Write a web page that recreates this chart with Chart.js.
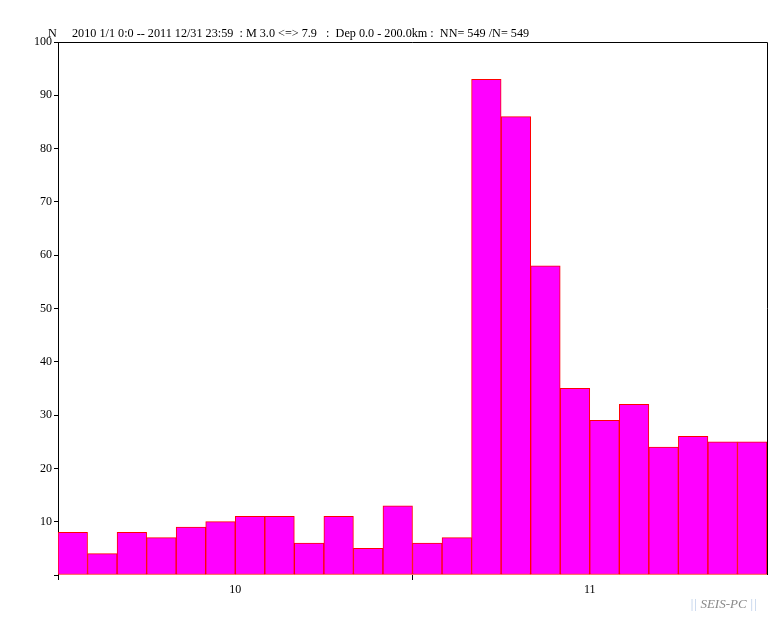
<!DOCTYPE html>
<html>
<head>
<meta charset="utf-8">
<script src="https://cdn.jsdelivr.net/npm/chart.js@4.4.0/dist/chart.umd.min.js"></script>
<style>
  body { margin: 0; background: #fff; }
  #wrap { width: 783px; height: 618px; }
</style>
</head>
<body>
<div id="wrap"><canvas id="histChart" width="783" height="618"></canvas></div>
<script>
// monthly counts, 2010/01 .. 2011/12
const months = ['2010/01', '2010/02', '2010/03', '2010/04', '2010/05', '2010/06',
                '2010/07', '2010/08', '2010/09', '2010/10', '2010/11', '2010/12',
                '2011/01', '2011/02', '2011/03', '2011/04', '2011/05', '2011/06',
                '2011/07', '2011/08', '2011/09', '2011/10', '2011/11', '2011/12'];
const counts = [8, 4, 8, 7, 9, 10, 11, 11, 6, 11, 5, 13,
                6, 7, 93, 86, 58, 35, 29, 32, 24, 26, 25, 25];
const yearTicks = [0, 6, 12, 18];
const yearLabels = { 6: '10', 18: '11' };
const headerN = 'N';
const headerText = '2010 1/1 0:0 -- 2011 12/31 23:59  : M 3.0 <=> 7.9   :  Dep 0.0 - 200.0km :  NN= 549 /N= 549';

const serif = "'Liberation Serif', 'Times New Roman', serif";

const framePlugin = {
    id: 'frame',
    beforeDatasetsDraw(chart) {
        const { ctx, chartArea: a } = chart;
        ctx.save();
        ctx.strokeStyle = '#000';
        ctx.lineWidth = 1;
        ctx.beginPath();
        ctx.moveTo(a.left, a.top + 0.5);
        ctx.lineTo(a.right + 0.5, a.top + 0.5);
        ctx.lineTo(a.right + 0.5, a.bottom);
        ctx.stroke();
        ctx.restore();
    },
    afterDraw(chart) {
        const { ctx, chartArea: a } = chart;
        ctx.save();
        ctx.fillStyle = '#000';
        ctx.font = '12.2px ' + serif;
        ctx.textBaseline = 'alphabetic';
        ctx.fillText(headerN, a.left - 10, a.top - 5);
        ctx.fillText(headerText, a.left + 14, a.top - 5);
        // signature bottom right
        ctx.font = 'italic 13px ' + serif;
        let x = 690;
        const y = 608;
        ctx.fillStyle = '#b8cce8';
        ctx.fillText('|| ', x, y);
        x += ctx.measureText('|| ').width;
        ctx.fillStyle = '#8a8a8a';
        ctx.fillText('SEIS-PC', x, y);
        x += ctx.measureText('SEIS-PC ').width;
        ctx.fillStyle = '#b8cce8';
        ctx.fillText('||', x, y);
        ctx.restore();
    }
};

const chart = new Chart(document.getElementById('histChart').getContext('2d'), {
    type: 'bar',
    data: {
        labels: months,
        datasets: [{
            data: counts,
            backgroundColor: '#ff00ff',
            borderColor: '#ff0000',
            borderWidth: 1,
            borderSkipped: false,
            categoryPercentage: 1,
            barPercentage: 1
        }]
    },
    options: {
        responsive: false,
        animation: false,
        layout: { padding: { left: 0, top: 42, right: 16, bottom: 0 } },
        plugins: {
            legend: { display: false },
            title: { display: false },
            tooltip: { enabled: false }
        },
        scales: {
            x: { display: false },
            yr: {
                type: 'linear',
                position: 'bottom',
                axis: 'x',
                min: 0,
                max: 24,
                offset: false,
                afterBuildTicks: axis => { axis.ticks = yearTicks.map(v => ({ value: v })); },
                afterFit: axis => { axis.height = 43; },
                border: { display: false },
                grid: {
                    offset: false,
                    drawOnChartArea: false,
                    tickLength: 5,
                    color: c => (c.tick && c.tick.value % 12 === 0 ? '#000' : 'rgba(0,0,0,0)')
                },
                ticks: {
                    autoSkip: false,
                    maxRotation: 0,
                    padding: 3,
                    color: '#000',
                    font: { family: serif, size: 12 },
                    callback: v => yearLabels[v] || ''
                }
            },
            y: {
                min: 0,
                max: 100,
                afterFit: axis => { axis.width = 58; },
                border: { color: '#000', width: 1 },
                grid: { drawOnChartArea: false, tickLength: 4, color: '#000' },
                ticks: {
                    stepSize: 10,
                    padding: 2,
                    color: '#000',
                    font: { family: serif, size: 12 },
                    callback: v => (v === 0 ? '' : v)
                }
            }
        }
    },
    plugins: [framePlugin]
});
</script>
</body>
</html>
